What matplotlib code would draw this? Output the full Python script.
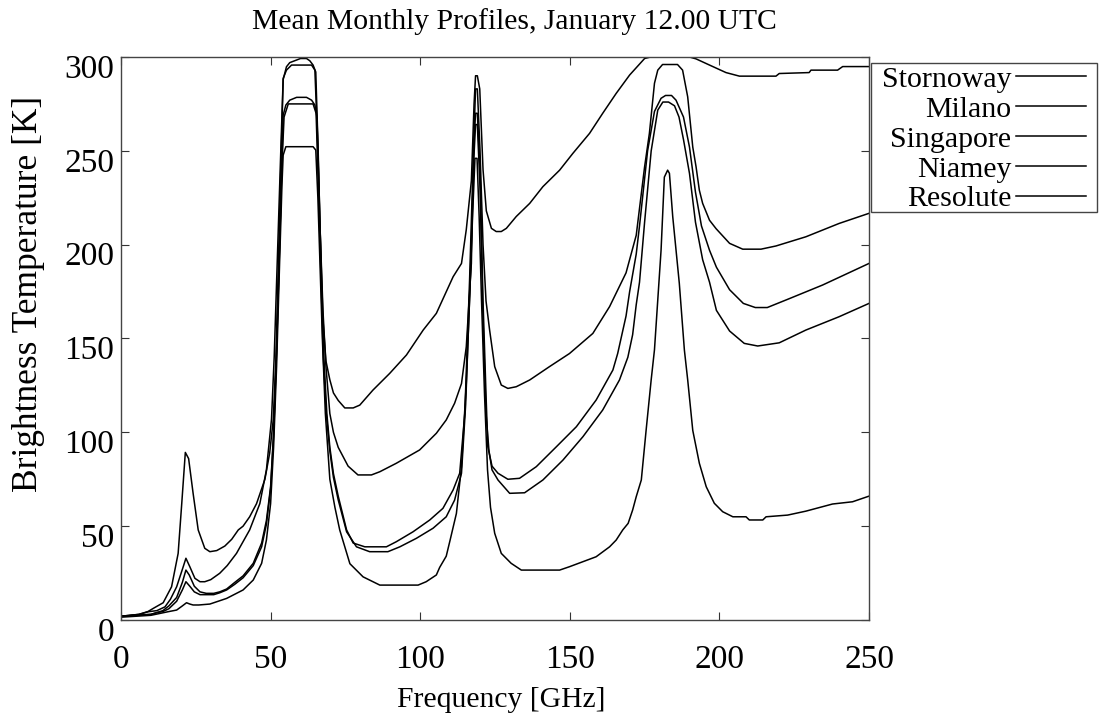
import numpy as np
import matplotlib
matplotlib.use("Agg")
import matplotlib.pyplot as plt
from matplotlib.patches import Rectangle
from matplotlib.transforms import ScaledTranslation

# Mean monthly brightness temperature profiles, January 12 UTC
freq_singapore = [0, 3, 6, 9, 10.8, 14.1, 16.9, 19.1, 20.3, 21.5, 22.6, 24.1, 25.8, 28, 29.7, 32, 34.7, 37,
                  39.2, 40.8, 43, 45.3, 48.1, 49.7, 50.9, 51.8, 52.6, 53.4, 54.2, 55.3, 56.4, 58.7, 60, 62,
                  63.1, 64.2, 65.1, 65.9, 66.5, 67.5, 68.5, 69.8, 71, 72.6, 74.8, 77.6, 79.8, 84.2, 89.8,
                  95.4, 101, 105.4, 111, 113.8, 115.4, 117.1, 118, 118.5, 119.1, 119.9, 121, 122.1, 123.8,
                  125.4, 127.1, 128.8, 132.1, 136.6, 141, 146.6, 151, 156.6, 161, 165.5, 170, 175, 177,
                  190, 192.2, 196.7, 202.2, 206.7, 218.9, 220, 230, 230.6, 239.5, 241.2, 250]
tb_singapore = [2, 2.5, 3, 4.5, 6.2, 9.2, 17.7, 35.5, 62, 89.3, 86, 67.5, 48, 38.2, 36.4, 37, 39.4, 43,
                48, 50, 55, 62, 75, 89, 107, 140, 190, 240, 288, 294.8, 297, 298.4, 299.2, 299.2,
                298, 295.7, 292, 250, 210, 160, 138, 128, 121, 117, 113, 113, 114.5, 122.5, 131.4,
                141.2, 154.5, 163.4, 182.9, 190, 208, 234, 275, 290, 290, 283, 240, 218, 208.7,
                207, 207, 208.7, 215, 222, 230.9, 239.7, 248.6, 259.3, 270, 280.6, 290.4, 299.2, 300,
                300, 299, 295.7, 291.7, 289.8, 289.8, 291.2, 291.7, 293, 293, 294.9, 294.9]

freq_niamey = [0, 3, 6, 9.1, 12, 14.7, 16.5, 18.6, 20.8, 21.7, 23, 24.7, 26.4, 28, 30, 33, 35.5, 38.6,
               43, 46.4, 48.6, 50.3, 51.2, 52.2, 53.2, 54.2, 55.3, 57, 63.7, 64.8, 65.6, 66.4, 67.5,
               68.5, 69.8, 71, 72.6, 75.9, 79.2, 83.7, 86.5, 92, 99.8, 105.4, 108.7, 111.5, 113.8,
               115.4, 117.1, 118, 118.5, 119.1, 120, 121, 122, 123.2, 124.9, 127.1, 129.3, 132.1,
               136.6, 143.2, 149.9, 157.7, 163.3, 168.8, 172.2, 175, 176.6, 178.3, 179.4, 181, 186,
               187.7, 189.4, 191.1, 192.2, 193.3, 194.4, 196.7, 198.9, 203.4, 207.8, 213.9, 218.9,
               228.9, 240, 250]
tb_niamey = [2, 2.5, 3, 4.4, 5, 7, 11, 17.7, 28.4, 32.9, 28.4, 22.2, 20.4, 20.4, 21.5, 24.9, 29, 35.5,
             48, 62, 80, 107, 140, 190, 240, 288.6, 293, 295.7, 295.7, 293, 260, 215, 165,
             135, 110, 100, 92, 82, 77.3, 77.3, 79, 83.5, 90.6, 99.5, 106.6, 115.5, 126,
             145.6, 190, 260, 283, 283, 250, 200, 170, 154.5, 135, 125.2, 123.4, 124.3,
             127.9, 135, 142, 152.7, 167, 185, 205, 241.5, 259.3, 286, 293, 296, 296,
             293, 278.8, 252, 241.5, 229, 222, 213, 208.5, 200.7, 197.6, 197.6, 199.3,
             204.2, 211.3, 216.7]

freq_stornoway = [0, 5, 10, 11.9, 14, 16, 18.6, 20.5, 21.7, 22.8, 24.5, 26.4, 28.5, 31, 33, 35.3, 38,
                  40.8, 44.2, 47, 48.6, 50, 51, 52, 53, 53.8, 54.2, 55.1, 56.4, 58.7, 62, 63.7, 64.8,
                  65.5, 66.2, 67, 67.8, 68.8, 69.8, 71, 72.6, 75.4, 77.6, 81.5, 88.7, 92, 97.6, 103.2,
                  107.6, 111, 113.2, 114.9, 116.5, 117.8, 118.5, 119.1, 120, 121, 122, 122.6, 124, 126,
                  129.3, 133.2, 138.8, 145.5, 152.2, 158.8, 164.4, 166, 168.8, 170, 172.2, 173.3, 176,
                  178.3, 180.5, 182, 184, 185.5, 188, 190, 192, 194, 196.7, 199, 203.4, 208, 212, 216,
                  223, 234.5, 250]
tb_stornoway = [2, 2.5, 3, 3.9, 5, 7.5, 12, 20, 26.6, 24, 18, 15, 14.2, 14.2, 15, 16.5, 20,
                23.5, 30.2, 41, 53, 71, 100, 145, 200, 245, 269, 274.4, 277, 278.5, 278.5, 277, 274.4,
                268, 230, 180, 140, 110, 92, 78, 66, 48, 41, 39, 39, 41.7, 47, 53.3,
                59.5, 69.3, 78.2, 110, 181, 250, 270, 270, 240, 170, 120, 92.3, 82, 78.2,
                75, 75.5, 81.7, 92.3, 103, 117.2, 133.2, 142, 162, 175, 195, 210, 250,
                271, 278, 279.5, 279.5, 277, 268, 252, 228, 210, 197, 188, 176, 168.7, 166.5, 166.5,
                171, 178.5, 190]

freq_milano = [0, 5, 10, 11.9, 14, 16, 18.6, 20.5, 21.7, 23, 24.5, 26.4, 28.5, 31, 33, 35.3, 38, 40.8,
               44.2, 47, 48.6, 50, 51, 52, 53, 53.8, 54.5, 55.9, 64.2, 65.2, 66, 66.8, 67.6, 68.6,
               69.8, 71, 72.6, 75.4, 78.7, 83.1, 89.2, 93.2, 98.7, 104.3, 108.7, 111.5, 113.8, 115.2,
               116.7, 117.9, 118.5, 119.1, 120, 121, 122, 123, 124, 126, 129.9, 134.9, 141, 147.7,
               154.4, 161, 166.6, 169.4, 171, 172.2, 173.3, 175, 177.2, 179.4, 181.1, 183, 185, 186.5,
               188, 190, 192, 194.4, 196.7, 199, 203.4, 208.3, 212.8, 220, 228.9, 240, 250]
tb_milano = [2, 2.5, 3, 3.9, 4.5, 6, 10, 16, 20.4, 18, 15, 13.5, 13.5, 13.5, 14.5, 16, 19, 22.5,
             29, 39, 51, 70, 98, 143, 198, 243, 268, 275, 275, 270, 230, 185, 140, 110,
             90, 76, 64, 47, 39, 36.4, 36.4, 39, 43.5, 48.9, 55, 63.9, 78.2, 115,
             180, 245, 264, 264, 230, 160, 110, 90, 80, 74.6, 67.5, 67.8, 74.6, 85.2,
             97.7, 111.9, 127.9, 140, 152, 168, 180, 212, 250, 271.7, 276, 276, 274, 268,
             256, 238, 212, 192, 180, 165, 154, 147.4, 146, 147.7, 154.5, 161.6, 168.7]

freq_resolute = [0, 5, 10, 13, 16, 18.6, 20.5, 21.9, 23, 24.1, 26, 29.7, 35.3, 40.8, 44.2, 47, 48.6,
                 50, 51, 52, 53, 53.8, 54.2, 55.1, 64.2, 65.1, 65.8, 66.5, 67.3, 68.3, 69.8, 71.5,
                 73.1, 76.5, 80.9, 86.5, 99.3, 102, 105.4, 106.5, 108.7, 110, 112.1, 113.8, 115.4,
                 116.5, 117.5, 118.3, 119, 119.7, 120.5, 121.5, 122.5, 123.5, 124.9, 127.1, 130.4,
                 133.8, 146.6, 149.9, 158.8, 163.3, 165.5, 167.7, 169.5, 171, 172.2, 173.9, 175.5,
                 177.2, 178.3, 180.5, 181.6, 182.7, 183.3, 184.4, 186.6, 188.3, 189.4, 191.1, 193.3,
                 195.6, 198.3, 201.1, 204.5, 208.9, 210, 214.5, 215.6, 222.8, 228.9, 237.8, 244.5, 250]
tb_resolute = [1.5, 2, 2.5, 3.5, 4.5, 5.3, 7.5, 9.2, 8.5, 8, 8, 8.5, 11.5, 16, 21.3, 30.2, 42.6,
               62, 92, 135, 190, 232, 247.7, 252.2, 252.2, 250.4, 225, 190, 150, 110, 75, 60,
               48, 30, 23, 18.6, 18.6, 20.4, 24, 28, 34, 42.6, 56.8, 81.7, 126,
               170.5, 215, 246, 246, 215, 170, 120, 80, 60, 46.2, 35.5, 30.2,
               26.6, 26.6, 28.4, 33.7, 39, 42.6, 48, 51.5, 58.6, 65.7, 74.6, 101,
               128, 144, 197, 236, 239.7, 238, 215, 179.4, 143.8, 128, 101, 83.5,
               71, 62.2, 57.7, 55, 55, 53.3, 53.3, 55, 55.9, 58, 61.8, 63, 66]

series = [("Stornoway", freq_stornoway, tb_stornoway),
          ("Milano", freq_milano, tb_milano),
          ("Singapore", freq_singapore, tb_singapore),
          ("Niamey", freq_niamey, tb_niamey),
          ("Resolute", freq_resolute, tb_resolute)]

xticks = [0, 50, 100, 150, 200, 250]
yticks = [0, 50, 100, 150, 200, 250, 300]

plt.rcParams['font.family'] = ['Liberation Serif', 'DejaVu Serif']

W, H = 1099, 718
fig = plt.figure(figsize=(W / 100, H / 100), dpi=100)
ax = fig.add_axes([121 / W, 98 / H, 748 / W, 563 / H])

for name, f, tb in series:
    ax.plot(f, tb, color='black', lw=1.1, label=name)

ax.set_xlim(0, 250)
ax.set_ylim(0, 300)
ax.set_xticks(xticks)
ax.set_yticks(yticks)
ax.tick_params(direction='in', length=6, width=0.8, top=True, right=True, labelsize=24,
               colors='#333333', labelcolor='black')
ax.tick_params(axis='x', pad=18)
ax.tick_params(axis='y', pad=5)
for sp in ax.spines.values():
    sp.set_linewidth(1.0)
    sp.set_color('#444444')

# y tick labels sit a little below their ticks, as in the original
off = ScaledTranslation(0, -0.09, fig.dpi_scale_trans)
for lab in ax.get_yticklabels():
    lab.set_transform(lab.get_transform() + off)

fig.text(514 / W, 1 - 22 / H, "Mean Monthly Profiles, January 12.00 UTC",
         ha='center', va='center', fontsize=21.3)
fig.text(501 / W, 1 - 700 / H, "Frequency [GHz]", ha='center', va='center', fontsize=21.3)
fig.text(29 / W, 1 - 294 / H, "Brightness Temperature [K]", ha='center', va='center',
         rotation=90, fontsize=25.5)

# key: labels right-aligned, samples to the right, square box outside the plot
leg = ax.legend(loc='upper right', bbox_to_anchor=(1086 / W, 1 - 66 / H),
                bbox_transform=fig.transFigure, borderaxespad=0, markerfirst=False,
                frameon=False, fontsize=21.5, handlelength=2.35,
                handletextpad=0.15, labelspacing=0.1, borderpad=0)
fig.add_artist(Rectangle((871 / W, 1 - 212 / H), 226 / W, 149 / H, transform=fig.transFigure,
                         fill=False, ec='#444444', lw=1.0))

fig.savefig("out.png", dpi=100)
